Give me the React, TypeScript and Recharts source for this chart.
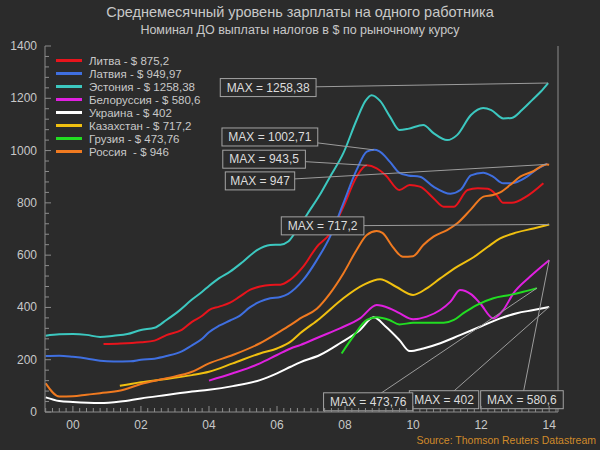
import { LineChart, Line, XAxis, YAxis, ReferenceLine, ReferenceDot, Legend } from "recharts";

const FONT = '"Liberation Sans", Arial, sans-serif';
const BG = "#2b2b2b";
const TEXT = "#c8c8c8";
const GRID = "#474747";
const AXIS = "#8c8c8c";
const LEADER = "#9c9c9c";

// legend order
const COUNTRIES = ["Литва", "Латвия", "Эстония", "Белоруссия", "Украина", "Казахстан", "Грузия", "Россия "];
const LAST_LABELS = ["875,2", "949,97", "1258,38", "580,6", "402", "717,2", "473,76", "946"];
const MAX_LABELS = ["943,5", "1002,71", "1258,38", "580,6", "402", "717,2", "473,76", "947"];
const COLORS = ["#e8141c", "#3f6fe0", "#3cc8c0", "#e020e0", "#ffffff", "#f0c010", "#22dd22", "#f07a20"];

const YEAR_TICKS = [2000, 2002, 2004, 2006, 2008, 2010, 2012, 2014];
const VALUE_TICKS = [0, 200, 400, 600, 800, 1000, 1200, 1400];

// [year, USD]
const lithuania: [number, number][] = [
  [2000.9, 260], [2001.4, 262], [2002.0, 267], [2002.4, 273], [2002.75, 294], [2003.2, 314],
  [2003.5, 345], [2003.8, 368], [2004.0, 390], [2004.3, 403], [2004.62, 418], [2004.9, 441],
  [2005.2, 467], [2005.5, 480], [2005.8, 486], [2006.1, 487], [2006.38, 505], [2006.77, 556],
  [2007.17, 632], [2007.56, 683], [2007.95, 785], [2008.34, 900], [2008.64, 943.5], [2008.93, 932],
  [2009.2, 905], [2009.6, 849], [2009.9, 868], [2010.2, 862], [2010.6, 818], [2010.9, 785],
  [2011.2, 785], [2011.6, 849], [2011.9, 856], [2012.2, 854], [2012.45, 830], [2012.65, 800],
  [2012.9, 800], [2013.35, 826], [2013.83, 875.2],
];

const latvia: [number, number][] = [
  [1999.2, 214], [1999.6, 215], [2000.0, 211], [2000.4, 205], [2000.8, 196], [2001.2, 193],
  [2001.7, 194], [2002.0, 200], [2002.4, 204], [2002.75, 214], [2003.2, 232], [2003.5, 255],
  [2003.8, 280], [2004.0, 305], [2004.3, 330], [2004.62, 350], [2004.9, 368], [2005.2, 400],
  [2005.5, 422], [2005.8, 435], [2006.1, 440], [2006.33, 452], [2006.77, 505], [2007.17, 581],
  [2007.56, 671], [2007.95, 798], [2008.34, 926], [2008.64, 996], [2008.85, 1002.71], [2009.0, 998],
  [2009.32, 957], [2009.6, 915], [2009.85, 905], [2010.2, 900], [2010.6, 862], [2011.1, 835],
  [2011.4, 850], [2011.7, 905], [2012.06, 915], [2012.35, 900], [2012.65, 875], [2012.9, 875],
  [2013.35, 900], [2013.6, 925], [2013.95, 949.97],
];

const estonia: [number, number][] = [
  [1999.2, 292], [1999.6, 297], [2000.0, 298], [2000.4, 295], [2000.8, 287], [2001.2, 292],
  [2001.6, 298], [2002.0, 314], [2002.4, 322], [2002.75, 352], [2003.1, 385], [2003.5, 430],
  [2003.8, 460], [2004.0, 482], [2004.3, 512], [2004.62, 537], [2005.0, 575], [2005.4, 618],
  [2005.8, 639], [2006.1, 640], [2006.33, 652], [2006.58, 696], [2006.97, 773], [2007.3, 840],
  [2007.56, 900], [2007.95, 990], [2008.34, 1117], [2008.6, 1190], [2008.78, 1212], [2009.03, 1190],
  [2009.32, 1130], [2009.6, 1079], [2009.85, 1083], [2010.3, 1098], [2010.6, 1067], [2011.0, 1040],
  [2011.3, 1060], [2011.7, 1136], [2012.06, 1163], [2012.3, 1155], [2012.65, 1123], [2012.9, 1125],
  [2013.2, 1155], [2013.5, 1193], [2013.75, 1225], [2013.97, 1258.38],
];

const belarus: [number, number][] = [
  [2004.0, 120], [2004.7, 148], [2005.5, 186], [2006.0, 218], [2006.4, 243], [2006.68, 256],
  [2007.26, 288], [2007.85, 320], [2008.44, 358], [2008.93, 409], [2009.3, 397], [2009.6, 378],
  [2010.0, 355], [2010.4, 365], [2010.8, 390], [2011.1, 422], [2011.38, 467], [2011.7, 451],
  [2011.97, 416], [2012.36, 358], [2012.65, 390], [2012.95, 454], [2013.44, 518], [2014.0, 580.6],
];

const ukraine: [number, number][] = [
  [1999.2, 56], [1999.6, 42], [2000.0, 38], [2000.8, 34], [2001.4, 40], [2002.0, 52],
  [2002.75, 65], [2003.5, 78], [2004.0, 85], [2004.7, 99], [2005.5, 122], [2006.0, 148],
  [2006.4, 173], [2006.68, 190], [2007.26, 218], [2007.85, 263], [2008.44, 314], [2008.84, 362],
  [2009.2, 326], [2009.6, 275], [2009.9, 233], [2010.3, 243], [2010.8, 263], [2011.38, 294],
  [2011.97, 326], [2012.56, 358], [2013.05, 378], [2013.54, 390], [2014.0, 402],
];

const kazakhstan: [number, number][] = [
  [2001.38, 100], [2002.0, 114], [2002.75, 126], [2003.5, 141], [2004.0, 154], [2004.7, 186],
  [2005.5, 224], [2006.0, 243], [2006.4, 269], [2006.68, 301], [2007.26, 358], [2007.95, 435],
  [2008.54, 486], [2009.03, 508], [2009.5, 479], [2010.0, 448], [2010.4, 473], [2010.8, 511],
  [2011.3, 556], [2011.8, 594], [2012.2, 632], [2012.56, 664], [2013.05, 687], [2013.54, 702],
  [2014.0, 717.2],
];

const georgia: [number, number][] = [
  [2007.9, 224], [2008.24, 288], [2008.64, 352], [2008.93, 362], [2009.3, 352], [2009.6, 335],
  [2010.0, 341], [2010.4, 341], [2010.9, 341], [2011.2, 352], [2011.48, 378], [2011.87, 409],
  [2012.36, 435], [2012.85, 448], [2013.24, 460], [2013.64, 473.76],
];

const russia: [number, number][] = [
  [1999.2, 110], [1999.6, 59], [2000.0, 60], [2000.4, 66], [2000.8, 72], [2001.4, 82],
  [2002.0, 107], [2002.75, 129], [2003.5, 154], [2004.0, 186], [2004.7, 218], [2005.5, 263],
  [2006.0, 301], [2006.4, 333], [2006.68, 358], [2007.17, 395], [2007.56, 454], [2007.95, 530],
  [2008.34, 620], [2008.64, 677], [2008.93, 692], [2009.1, 685], [2009.4, 632], [2009.7, 594],
  [2010.0, 596], [2010.3, 639], [2010.6, 671], [2011.0, 696], [2011.3, 722], [2011.7, 775],
  [2012.07, 824], [2012.35, 830], [2012.56, 840], [2012.85, 868], [2013.15, 900], [2013.5, 919],
  [2013.92, 947], [2014.0, 946],
];

const SERIES = [lithuania, latvia, estonia, belarus, ukraine, kazakhstan, georgia, russia];

// where the MAX boxes sit, in chart units (year, USD)
const BOX_POS: [number, number][] = [
  [2005.62, 967], [2005.79, 1052], [2005.74, 1241], [2013.2, 47],
  [2010.91, 47], [2007.34, 712], [2008.68, 39], [2005.5, 884],
];

const xMinor: number[] = [];
for (let i = 0; i <= 75; i++) xMinor.push(Math.round((1999.2 + i * 0.2) * 10) / 10);
const yMinor: number[] = [];
for (let v = 0; v <= 1400; v += 40) yMinor.push(v);

const maxPoint = (s: [number, number][]) => s.reduce((m, p) => (p[1] > m[1] ? p : m), s[0]);

function XTick({ x, y, payload }: any) {
  const v = payload.value;
  const yr = Math.round(v);
  const major = Math.abs(v - yr) < 1e-6 && YEAR_TICKS.includes(yr);
  return (
    <g>
      <line x1={x} x2={x} y1={y} y2={y - (major ? 6 : 4)} stroke={AXIS} />
      {major && (
        <text x={x} y={y + 17} textAnchor="middle" fill={TEXT} fontSize={12}>
          {String(yr).slice(2)}
        </text>
      )}
    </g>
  );
}

function YTick({ x, y, payload, side }: any) {
  const major = VALUE_TICKS.includes(payload.value);
  const dir = side === "left" ? 1 : -1;
  return (
    <g>
      <line x1={x} x2={x + dir * (major ? 6 : 4)} y1={y} y2={y} stroke={AXIS} />
      {major && (
        <text
          x={x - dir * 8}
          y={y + 4}
          textAnchor={side === "left" ? "end" : "start"}
          fill={TEXT}
          fontSize={12}
        >
          {payload.value}
        </text>
      )}
    </g>
  );
}

const maxBox = (text: string) => (props: any) => {
  const { cx, cy } = props;
  const w = text.length * 6.6 + 10;
  return (
    <g>
      <rect x={cx - w / 2} y={cy - 9} width={w} height={18} fill={BG} stroke="#a4a4a4" />
      <text x={cx} y={cy + 4.3} textAnchor="middle" fill="#dcdcdc" fontSize={12}>
        {text}
      </text>
    </g>
  );
};

// drawn from our own arrays so the order matches the original (Recharts sorts by name)
function LegendBox() {
  return (
    <div style={{ fontFamily: FONT, fontSize: 11.5, color: TEXT }}>
      {COUNTRIES.map((c, i) => (
        <div key={c} style={{ display: "flex", alignItems: "center", height: 13, whiteSpace: "pre" }}>
          <span style={{ display: "inline-block", width: 26, height: 2.5, background: COLORS[i], marginRight: 7 }} />
          {`${c} - $ ${LAST_LABELS[i]}`}
        </div>
      ))}
    </div>
  );
}

export default function App() {
  return (
    <div style={{ position: "absolute", left: 0, top: 0, width: 600, height: 450, background: BG, fontFamily: FONT }}>
      <div style={{ position: "absolute", top: 4, width: 600, textAlign: "center", color: TEXT, fontSize: 14.5 }}>
        Среднемесячный уровень зарплаты на одного работника
      </div>
      <div style={{ position: "absolute", top: 23, width: 600, textAlign: "center", color: TEXT, fontSize: 12.5 }}>
        Номинал ДО выплаты налогов в $ по рыночному курсу
      </div>
      <LineChart
        width={600}
        height={450}
        margin={{ top: 46, right: 0, bottom: 0, left: 0 }}
        style={{ fontFamily: FONT }}
      >
        {YEAR_TICKS.map((yr) => (
          <ReferenceLine key={"gx" + yr} x={yr} stroke={GRID} />
        ))}
        {VALUE_TICKS.slice(1).map((v) => (
          <ReferenceLine key={"gy" + v} y={v} stroke={GRID} />
        ))}
        <XAxis
          dataKey="x"
          type="number"
          domain={[1999.18, 2014.26]}
          ticks={xMinor}
          interval={0}
          height={38}
          tickSize={0}
          tickMargin={0}
          tickLine={false}
          axisLine={{ stroke: AXIS }}
          tick={<XTick />}
          allowDataOverflow
        />
        <YAxis
          yAxisId="l"
          orientation="left"
          type="number"
          domain={[0, 1400]}
          ticks={yMinor}
          interval={0}
          width={45}
          tickSize={0}
          tickMargin={0}
          tickLine={false}
          axisLine={{ stroke: AXIS }}
          tick={<YTick side="left" />}
        />
        <YAxis
          yAxisId="r"
          orientation="right"
          type="number"
          domain={[0, 1400]}
          ticks={yMinor}
          interval={0}
          width={42}
          tickSize={0}
          tickMargin={0}
          tickLine={false}
          axisLine={{ stroke: AXIS }}
          tick={<YTick side="right" />}
        />
        {SERIES.map((s, i) => (
          <Line
            key={COUNTRIES[i]}
            yAxisId="l"
            data={s.map(([x, v]) => ({ x, v }))}
            dataKey="v"
            name={`${COUNTRIES[i]} - $ ${LAST_LABELS[i]}`}
            type="monotone"
            stroke={COLORS[i]}
            strokeWidth={2}
            dot={false}
            isAnimationActive={false}
          />
        ))}
        {SERIES.map((s, i) => {
          const [mx, my] = maxPoint(s);
          return (
            <ReferenceLine
              key={"ld" + i}
              yAxisId="l"
              segment={[{ x: BOX_POS[i][0], y: BOX_POS[i][1] }, { x: mx, y: my }]}
              stroke={LEADER}
              strokeWidth={1}
            />
          );
        })}
        {SERIES.map((_, i) => (
          <ReferenceDot
            key={"bx" + i}
            yAxisId="l"
            x={BOX_POS[i][0]}
            y={BOX_POS[i][1]}
            shape={maxBox(`MAX = ${MAX_LABELS[i]}`)}
          />
        ))}
        <Legend
          layout="vertical"
          align="center"
          verticalAlign="middle"
          wrapperStyle={{ left: 56, top: 54, width: 180 }}
          content={<LegendBox />}
        />
      </LineChart>
      <div style={{ position: "absolute", right: 4, top: 434, color: "#d08a2a", fontSize: 10.5 }}>
        Source: Thomson Reuters Datastream
      </div>
    </div>
  );
}
